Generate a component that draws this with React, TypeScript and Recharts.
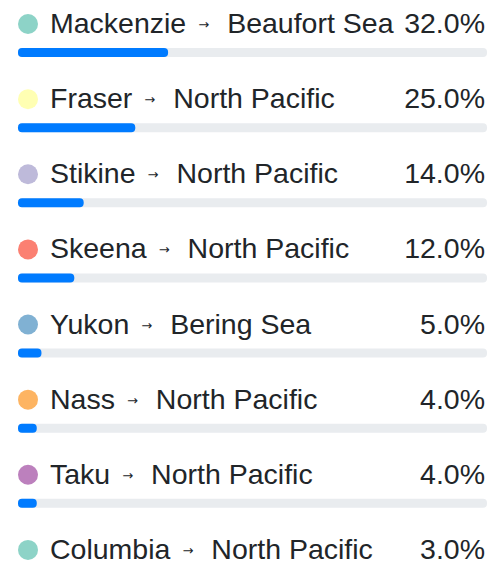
import { BarChart, Bar, XAxis, YAxis, LabelList } from "recharts";

const rivers = ["Mackenzie", "Fraser", "Stikine", "Skeena", "Yukon", "Nass", "Taku", "Columbia"];
const outlets = [
  "Beaufort Sea",
  "North Pacific",
  "North Pacific",
  "North Pacific",
  "Bering Sea",
  "North Pacific",
  "North Pacific",
  "North Pacific",
];
const shares = [32, 25, 14, 12, 5, 4, 4, 3];
const dotColors = ["#8dd3c7", "#ffffb3", "#bebada", "#fb8072", "#80b1d3", "#fdb462", "#bc80bd", "#8dd3c7"];

const data = rivers.map((river, i) => ({
  river,
  outlet: outlets[i],
  share: shares[i],
  color: dotColors[i],
}));

const W = 486;
const H = 608;
const margin = { top: 7, right: 7, left: 10, bottom: 0 };
const trackRight = W - margin.right;
const font = "'Liberation Sans', Arial, Helvetica, sans-serif";

function RowLabel(props: any) {
  const { x, y, value } = props;
  const row = data.find((d) => d.river === value);
  if (!row) return null;
  const base = y - 15;
  return (
    <g>
      <circle cx={x + 10} cy={y - 24} r={10} fill={row.color} />
      <text x={x + 32} y={base} fontSize={28.5} fill="#212529" fontFamily={font}>
        <tspan>{row.river}</tspan>
        <tspan fontSize={13} fontFamily="'DejaVu Sans', sans-serif" dx={12} dy={-4} fill="#212529">
          →
        </tspan>
        <tspan dx={18} dy={4}>{row.outlet}</tspan>
      </text>
      <text x={trackRight - 2} y={base} fontSize={28.5} fill="#212529" fontFamily={font} textAnchor="end">
        {row.share.toFixed(1)}%
      </text>
    </g>
  );
}

export default function App() {
  return (
    <div style={{ width: W, height: 573, overflow: "hidden", marginBottom: -8 }}>
      <BarChart width={W} height={H} data={data} layout="vertical" margin={margin}>
        <XAxis type="number" domain={[0, 100]} hide />
        <YAxis type="category" dataKey="river" hide />
        <Bar
          dataKey="share"
          fill="#007bff"
          barSize={9}
          radius={4}
          background={{ fill: "#e9ecef", radius: 4 }}
          isAnimationActive={false}
        >
          <LabelList dataKey="river" content={RowLabel} />
        </Bar>
      </BarChart>
    </div>
  );
}
